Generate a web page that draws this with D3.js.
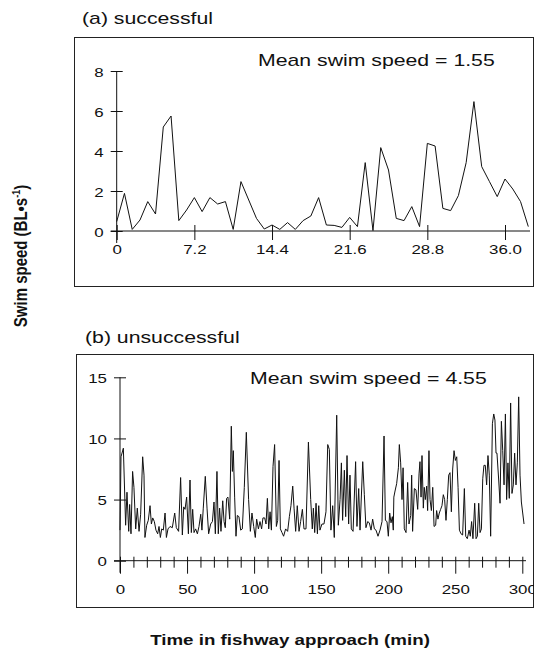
<!DOCTYPE html>
<html>
<head>
<meta charset="utf-8">
<script src="https://cdn.jsdelivr.net/npm/d3@7"></script>
<style>
  body { margin: 0; background: #fff; }
  svg { display: block; font-family: "Liberation Sans", Arial, sans-serif; }
</style>
</head>
<body>
<div id="chart"></div>
<script>
// (a) successful: one reading every 0.72 min
const successfulStep = 0.72;
const successfulSpeed = [0.47, 1.88, 0.08, 0.55, 1.47, 0.85, 5.2, 5.75, 0.52, 1.05,
  1.67, 0.97, 1.67, 1.35, 1.47, 0.08, 2.47, 1.55, 0.63, 0.1,
  0.3, 0.08, 0.42, 0.08, 0.52, 0.75, 1.67, 0.3, 0.28, 0.18,
  0.68, 0.22, 3.42, 0.02, 4.17, 3.05, 0.63, 0.52, 1.22, 0.22,
  4.38, 4.25, 1.13, 1.02, 1.77, 3.42, 6.47, 3.22, 2.47, 1.72,
  2.6, 2.1, 1.47, 0.22];
const successfulXTicks = [0, 7.2, 14.4, 21.6, 28.8, 36.0];
const successfulYTicks = [0, 2, 4, 6, 8];

// (b) unsuccessful: time (min) and speed of the visible vertices
const unsuccessfulTime = [0, 0.75, 2.5, 4.2, 5.2, 6.5, 7.2, 8.2, 9.4, 10.4, 11.7, 12.9, 14.2, 15.4, 16.9, 17.9, 18.6, 19.9,
  21.1, 22.4, 23.4, 24.4, 25.6, 26.8, 28.1, 29.1, 30.1, 31.1, 32.3, 33.6, 34.6, 35.8, 37.3, 39.0, 40.8, 42.0, 43.7,
  45.2, 46.5, 47.5, 48.5, 49.7, 51.0, 52.2, 53.2, 54.2, 55.2, 56.4, 57.7, 58.9, 60.2, 61.1, 62.1, 63.6, 64.9, 66.1,
  67.6, 68.9, 70.1, 71.1, 72.3, 73.3, 74.3, 75.3, 76.6, 77.6, 78.5, 79.5, 80.5, 81.8, 83.0, 83.8, 84.5, 85.5, 86.5,
  87.5, 88.7, 90.0, 91.2, 92.7, 94.2, 95.9, 97.2, 98.4, 99.7, 100.9, 101.9, 103.2, 104.4, 105.6, 106.6, 107.9, 108.9,
  109.9, 110.9, 111.9, 112.9, 114.1, 115.3, 116.6, 117.6, 118.6, 119.6, 120.8, 122.0, 123.5, 125.0, 126.3, 127.5,
  128.8, 129.8, 131.0, 132.2, 133.5, 134.7, 136.0, 137.2, 138.7, 140.5, 142.2, 143.4, 144.2, 145.2, 146.2, 147.2,
  148.2, 149.1, 150.6, 152.1, 153.6, 154.9, 156.1, 157.3, 158.6, 159.8, 161.6, 162.8, 164.1, 165.1, 166.0, 167.3,
  168.3, 169.3, 170.5, 171.5, 172.5, 173.8, 175.7, 176.7, 178.0, 179.0, 181.0, 182.2, 183.4, 184.7, 185.9, 187.2,
  188.4, 189.7, 190.9, 192.4, 193.9, 195.4, 196.9, 197.9, 199.1, 200.1, 201.1, 202.1, 203.1, 203.8, 204.2, 205.1,
  206.3, 207.6, 208.3, 209.3, 210.3, 211.1, 212.0, 213.3, 214.5, 215.5, 216.8, 217.5, 218.2, 219.5, 220.7, 222.0,
  223.0, 223.7, 224.5, 225.2, 226.2, 226.9, 227.7, 228.7, 229.4, 230.4, 231.2, 232.2, 233.2, 234.2, 235.4, 236.1,
  237.1, 238.1, 239.1, 240.1, 241.1, 242.1, 243.1, 244.1, 245.1, 246.1, 247.1, 248.1, 249.1, 250.1, 251.1, 252.1,
  253.1, 254.3, 255.5, 256.8, 257.8, 259.0, 260.3, 261.2, 262.2, 263.2, 264.5, 265.5, 266.5, 267.5, 268.5, 269.5,
  270.5, 271.4, 272.4, 273.4, 274.4, 275.4, 276.4, 277.7, 278.7, 279.6, 280.4, 281.1, 282.4, 283.4, 284.4, 285.4,
  286.4, 287.4, 288.3, 289.3, 290.3, 291.3, 292.3, 293.3, 294.3, 295.3, 296.3, 297.3, 298.3, 299.3, 301.3];
const unsuccessfulSpeed = [2.5, 8.5, 9.2, 2.9, 5.6, 2.4, 4.6, 2.2, 7.3, 6.0, 2.6, 4.3, 2.4, 3.8, 8.5, 7.0, 1.9, 2.9,
  3.3, 4.5, 3.0, 3.5, 3.2, 2.5, 2.2, 2.8, 1.9, 2.6, 2.5, 3.9, 1.9, 2.6, 2.8, 2.7, 3.9, 2.7, 2.4,
  6.8, 2.1, 4.4, 4.2, 5.2, 2.2, 6.6, 2.3, 4.2, 2.3, 2.6, 2.2, 2.8, 3.8, 2.5, 4.3, 6.9, 4.3, 2.2,
  3.0, 3.2, 4.8, 2.2, 7.3, 2.2, 4.3, 2.4, 4.9, 3.2, 2.7, 5.1, 5.2, 3.4, 11.0, 7.3, 9.0, 5.2, 2.0,
  3.7, 3.6, 2.5, 2.6, 6.0, 10.5, 5.0, 2.4, 3.9, 2.8, 1.9, 3.4, 2.6, 3.2, 2.6, 3.5, 3.5, 3.0,
  5.1, 2.6, 4.0, 2.5, 7.7, 9.5, 2.8, 3.3, 8.2, 2.6, 2.3, 2.0, 2.6, 2.4, 3.6, 4.5,
  6.1, 4.3, 2.4, 4.5, 2.4, 3.2, 4.2, 2.6, 2.6, 9.7, 5.0, 2.6, 4.3, 2.3, 4.7, 2.2,
  4.5, 2.5, 3.0, 3.0, 4.0, 9.5, 9.1, 2.5, 4.5, 1.9, 11.9, 2.9, 5.0, 8.0, 3.3, 7.4,
  3.6, 8.6, 3.0, 7.0, 2.6, 2.4, 8.1, 2.8, 5.9, 2.5, 8.1, 5.4, 2.7, 3.2, 3.1, 2.5,
  3.4, 2.6, 2.5, 2.0, 2.5, 3.2, 10.2, 3.3, 3.2, 2.0, 3.9, 3.1, 3.6, 2.5, 5.2, 5.7,
  6.3, 7.6, 9.5, 8.0, 5.0, 7.6, 2.6, 2.3, 6.4, 3.0, 3.7, 7.0, 2.4, 5.9, 5.8, 4.2,
  7.1, 8.1, 5.2, 8.6, 4.3, 6.0, 5.0, 6.1, 4.1, 9.0, 5.0, 4.1, 6.0, 2.8, 2.9, 4.1,
  3.4, 3.9, 4.2, 4.5, 5.4, 5.0, 3.3, 5.0, 7.0, 7.2, 4.0, 7.5, 9.0, 8.2, 8.5, 6.0,
  2.5, 2.2, 2.1, 5.9, 2.0, 1.8, 2.5, 2.0, 3.2, 1.8, 4.7, 1.8, 2.0, 4.7, 2.3, 2.6,
  6.7, 7.8, 7.8, 6.2, 8.6, 7.0, 2.0, 11.2, 12.0, 11.5, 8.8, 8.8, 6.6, 4.7, 11.4, 9.0,
  6.2, 12.0, 5.0, 8.0, 5.1, 12.9, 5.5, 6.2, 8.8, 6.2, 8.0, 13.4, 7.0, 4.8, 3.0];
const unsuccessfulXTicks = d3.range(0, 301, 10);
const unsuccessfulXLabels = [0, 50, 100, 150, 200, 250, 300];
const unsuccessfulYTicks = [0, 5, 10, 15];

const width = 534, height = 660;
const stretch = 1.25; // the original figure is widened, text included

const svg = d3.select("#chart").append("svg")
  .attr("width", width)
  .attr("height", height);

function label(x, y, txt, size, anchor, weight) {
  return svg.append("text")
    .attr("transform", `translate(${x},${y}) scale(${stretch},1)`)
    .attr("text-anchor", anchor || "start")
    .attr("font-size", size)
    .attr("font-weight", weight || "normal")
    .attr("fill", "#111")
    .text(txt);
}

// draw one panel; cfg holds the layout
function panel(cfg) {
  const x = d3.scaleLinear().domain(cfg.xDomain).range(cfg.xRange);
  const y = d3.scaleLinear().domain(cfg.yDomain).range(cfg.yRange);

  svg.append("rect")
    .attr("x", cfg.box[0]).attr("y", cfg.box[1])
    .attr("width", cfg.box[2]).attr("height", cfg.box[3])
    .attr("fill", "none").attr("stroke", "#222").attr("stroke-width", 1);

  label(cfg.titleX, cfg.titleY, cfg.title, 17);
  label(cfg.meanX, cfg.meanY, cfg.mean, 17);

  const x0 = x(0), y0 = y(0);

  // y axis
  const gy = svg.append("g")
    .attr("transform", `translate(${x0},0)`)
    .call(d3.axisLeft(y).tickValues(cfg.yTicks).tickSizeInner(6).tickSizeOuter(0));
  gy.select(".domain").remove();
  gy.selectAll(".tick line").attr("x1", 6).attr("stroke", "#111");
  gy.selectAll(".tick text")
    .attr("x", null).attr("dy", null)
    .attr("transform", `translate(-13,5) scale(${stretch},1)`)
    .attr("font-size", 13.5).attr("fill", "#111")
    .attr("font-family", "Liberation Sans, Arial, sans-serif");
  svg.append("line")
    .attr("x1", x0).attr("x2", x0)
    .attr("y1", y(cfg.yDomain[1])).attr("y2", y0 + 12)
    .attr("stroke", "#111");

  // x axis
  const gx = svg.append("g")
    .attr("transform", `translate(0,${y0})`)
    .call(d3.axisBottom(x).tickValues(cfg.xTicks).tickSizeInner(9).tickSizeOuter(0)
      .tickFormat(d => cfg.xLabels.includes(d) ? cfg.fmt(d) : ""));
  gx.select(".domain").remove();
  gx.selectAll(".tick line")
    .attr("y1", cfg.tickUp)
    .attr("y2", d => cfg.xLabels.includes(d) ? cfg.tickDownMajor : cfg.tickDown)
    .attr("stroke", "#111");
  gx.selectAll(".tick text")
    .attr("y", null).attr("dy", null)
    .attr("transform", `translate(0,${cfg.labelDy}) scale(${stretch},1)`)
    .attr("font-size", 13.5).attr("fill", "#111")
    .attr("font-family", "Liberation Sans, Arial, sans-serif");
  svg.append("line")
    .attr("x1", x0 - 6).attr("x2", cfg.axisEnd)
    .attr("y1", y0).attr("y2", y0)
    .attr("stroke", "#111");

  // series
  const line = d3.line().x(d => x(d[0])).y(d => y(d[1]));
  svg.append("path")
    .datum(cfg.points)
    .attr("d", line)
    .attr("fill", "none")
    .attr("stroke", "#111")
    .attr("stroke-width", 1)
    .attr("stroke-linejoin", "miter");
}

panel({
  xDomain: [0, 36], xRange: [116.7, 505],
  yDomain: [0, 8], yRange: [231, 71],
  box: [74.5, 37.5, 459, 249],
  title: "(a) successful", titleX: 82, titleY: 24,
  mean: "Mean swim speed = 1.55", meanX: 258, meanY: 66,
  xTicks: successfulXTicks, xLabels: successfulXTicks,
  fmt: d => d === 0 ? "0" : d.toFixed(1),
  yTicks: successfulYTicks,
  tickUp: -6, tickDown: 9, tickDownMajor: 9, labelDy: 23, axisEnd: 530,
  points: successfulSpeed.map((v, i) => [i * successfulStep, v])
});

panel({
  xDomain: [0, 300], xRange: [120, 522.3],
  yDomain: [0, 15], yRange: [560.7, 377.3],
  box: [76.5, 354.5, 457, 253],
  title: "(b) unsuccessful", titleX: 85, titleY: 343,
  mean: "Mean swim speed = 4.55", meanX: 250, meanY: 384,
  xTicks: unsuccessfulXTicks, xLabels: unsuccessfulXLabels,
  fmt: d => String(d),
  yTicks: unsuccessfulYTicks,
  tickUp: -4, tickDown: 7, tickDownMajor: 13, labelDy: 33, axisEnd: 526,
  points: unsuccessfulTime.map((t, i) => [t, unsuccessfulSpeed[i]])
});

// axis titles
label(290, 645, "Time in fishway approach (min)", 15, "middle", "bold");

const yt = svg.append("text")
  .attr("transform", `translate(27,256) rotate(-90) scale(1,${stretch})`)
  .attr("text-anchor", "middle")
  .attr("font-size", 15)
  .attr("font-weight", "bold")
  .attr("fill", "#111");
yt.append("tspan").text("Swim speed (BL\u2022s");
yt.append("tspan").attr("font-size", 9).attr("dy", -6).text("-1");
yt.append("tspan").attr("dy", 6).text(")");
</script>
</body>
</html>
